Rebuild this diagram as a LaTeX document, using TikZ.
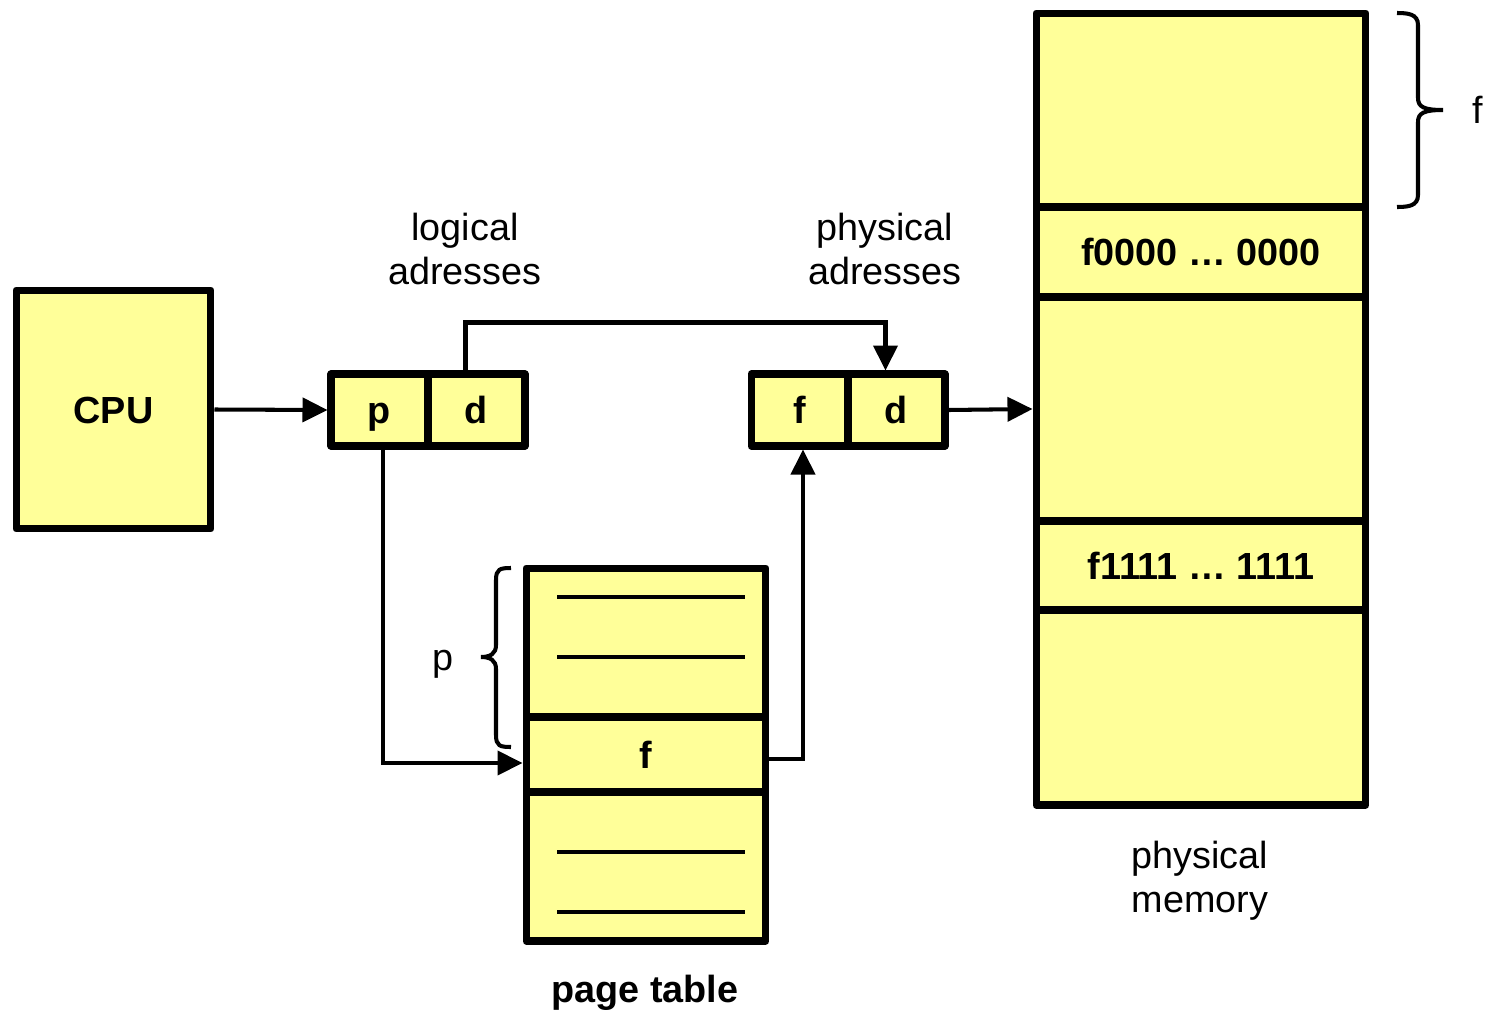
\documentclass[tikz,border=0pt]{standalone}
\usepackage{fontspec}
\setmainfont{Liberation Sans}
\usetikzlibrary{arrows.meta,calc}
\definecolor{boxyellow}{HTML}{FFFF99}
\begin{document}
\begin{tikzpicture}[x=0.02cm,y=-0.02cm,
  txt/.style={font=\fontsize{21.5}{25}\selectfont,align=center,inner sep=0pt},
  btxt/.style={font=\bfseries\fontsize{21.5}{25}\selectfont,align=center,inner sep=0pt},
  box/.style={draw,line width=4pt,line join=round,fill=boxyellow,inner sep=0pt,
    font=\bfseries\fontsize{21.5}{25}\selectfont,text height=15.4pt,text depth=0pt},
  arr/.style={line width=2.3pt,-{Triangle[length=0.5cm,width=0.48cm]}},
  entry/.style={line width=2.8pt},
  bracestyle/.style={line width=2.3pt}]
\useasboundingbox (0,0) rectangle (1489,1011);
% CPU
\node[box,minimum width=3.9cm,minimum height=4.78cm] (cpu) at (113.5,409.5) {CPU};
% logical address
\node[box,minimum width=1.94cm,minimum height=1.44cm] (lp) at (379.5,410) {p};
\node[box,minimum width=1.94cm,minimum height=1.44cm] (ld) at (476.5,410) {d};
% physical address
\node[box,minimum width=1.94cm,minimum height=1.44cm] (pf) at (799.5,410) {f};
\node[box,minimum width=1.94cm,minimum height=1.44cm] (pd) at (896.5,410) {d};
% page table
\node[box,minimum width=4.8cm,minimum height=2.98cm] (pt1) at (646,642.5) {};
\node[box,minimum width=4.8cm,minimum height=1.5cm] (pt2) at (646,754.5) {f};
\node[box,minimum width=4.8cm,minimum height=2.98cm] (pt3) at (646,866.5) {};
\draw[entry] (557,597) -- (745,597);
\draw[entry] (557,657) -- (745,657);
\draw[entry] (557,852) -- (745,852);
\draw[entry] (557,912) -- (745,912);
% physical memory
\node[box,minimum width=6.6cm,minimum height=3.88cm] (m1) at (1201,110) {};
\node[box,minimum width=6.6cm,minimum height=1.8cm] (m2) at (1201,252) {f0000 … 0000};
\node[box,minimum width=6.6cm,minimum height=4.48cm] (m3) at (1201,409) {};
\node[box,minimum width=6.6cm,minimum height=1.78cm] (m4) at (1201,565.5) {f1111 … 1111};
\node[box,minimum width=6.6cm,minimum height=3.9cm] (m5) at (1201,707.5) {};
% labels
\node[txt] (lab1) at (465,249) {logical\\adresses};
\node[txt] (lab2) at (885,249) {physical\\adresses};
\node[txt] (lab3) at (1200,881) {physical\\memory};
\node[btxt] (lab4) at (645,993) {page table};
\node[txt] (labp) at (443,664) {p};
\node[txt] (labf) at (1478,110) {f};
% braces
\draw[bracestyle] (511,568) .. controls (500,568) and (496,569) .. (496,580) -- (496,645)
  .. controls (496,654) and (490,657) .. (481,657)
  .. controls (490,657) and (496,660) .. (496,669) -- (496,735)
  .. controls (496,746) and (500,747) .. (511,747);
\draw[bracestyle] (1397,13) .. controls (1408,13) and (1418,14) .. (1418,25) -- (1418,98)
  .. controls (1418,107) and (1424,110) .. (1443,110)
  .. controls (1424,110) and (1418,113) .. (1418,122) -- (1418,195)
  .. controls (1418,206) and (1408,207) .. (1397,207);
% connectors
\coordinate (dup) at ($(ld.north)+(-11,0)$);
\coordinate (ddown) at ($(pd.north)+(-11,0)$);
\coordinate (pdown) at ($(lp.south)+(3.5,0)$);
\coordinate (ptin) at ($(pt2.west)+(0,8.5)$);
\coordinate (ptout) at ($(pt2.east)+(0,4.5)$);
\coordinate (fin) at ($(pf.south)+(3.5,0)$);
\draw[arr] (cpu.east) -- (lp.west);
\draw[arr] (dup) -- ++(0,-48) -| (ddown);
\draw[arr] (pdown) |- (ptin);
\draw[arr] (ptout) -| (fin);
\draw[arr] (pd.east) -- (m3.west);
\end{tikzpicture}
\end{document}
